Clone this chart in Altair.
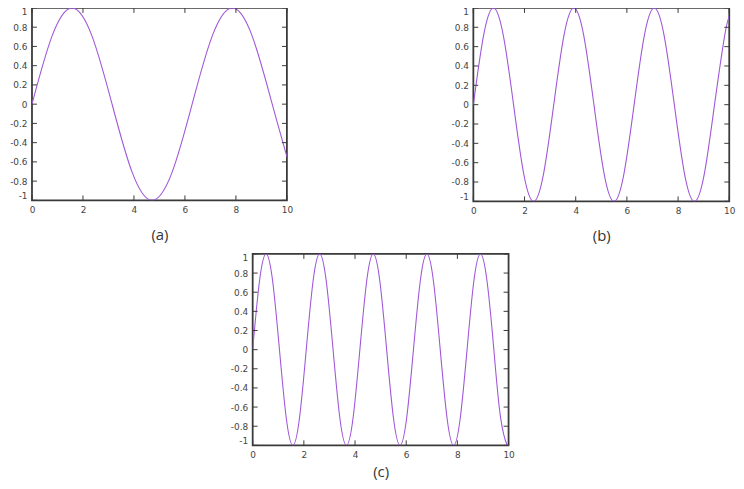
import altair as alt
import pandas as pd

# ---- data (x positions and curve values) ----
xa = [0, 0.785, 1.571, 2.356, 3.142, 3.927, 4.712, 5.498, 6.283, 7.069, 7.854,
      8.639, 9.425, 10]
ya = [0, 0.707, 1, 0.707, 0, -0.707, -1, -0.707, 0, 0.707, 1, 0.707, 0, -0.544]

xb = [0, 0.393, 0.785, 1.178, 1.571, 1.963, 2.356, 2.749, 3.142, 3.534, 3.927,
      4.320, 4.712, 5.105, 5.498, 5.890, 6.283, 6.676, 7.069, 7.461, 7.854,
      8.247, 8.639, 9.032, 9.425, 9.817, 10]
yb = [0, 0.707, 1, 0.707, 0, -0.707, -1, -0.707, 0, 0.707, 1, 0.707, 0,
      -0.707, -1, -0.707, 0, 0.707, 1, 0.707, 0, -0.707, -1, -0.707, 0,
      0.707, 0.913]

xc = [0, 0.262, 0.524, 0.785, 1.047, 1.309, 1.571, 1.833, 2.094, 2.356, 2.618,
      2.880, 3.142, 3.403, 3.665, 3.927, 4.189, 4.451, 4.712, 4.974, 5.236,
      5.498, 5.760, 6.021, 6.283, 6.545, 6.807, 7.069, 7.330, 7.592, 7.854,
      8.116, 8.378, 8.639, 8.901, 9.163, 9.425, 9.687, 9.948, 10]
yc = [0, 0.707, 1, 0.707, 0, -0.707, -1, -0.707, 0, 0.707, 1, 0.707, 0,
      -0.707, -1, -0.707, 0, 0.707, 1, 0.707, 0, -0.707, -1, -0.707, 0,
      0.707, 1, 0.707, 0, -0.707, -1, -0.707, 0, 0.707, 1, 0.707, 0,
      -0.707, -1, -0.988]

x_ticks = [0, 2, 4, 6, 8, 10]
y_ticks = [-1, -0.8, -0.6, -0.4, -0.2, 0, 0.2, 0.4, 0.6, 0.8, 1]
labels = ["(a)", "(b)", "(c)"]

LINE = "#a058d8"
FRAME = "#3a3a3a"
TICK_LEN = 5


def panel(xs, ys, title, w, h, title_pad):
    df = pd.DataFrame({"x": xs, "y": ys})
    xt = pd.DataFrame({"x": x_ticks})
    yt = pd.DataFrame({"y": y_ticks})
    xscale = alt.Scale(domain=[0, 10], nice=False, zero=False)
    yscale = alt.Scale(domain=[-1, 1], nice=False, zero=False)
    x_axis = alt.Axis(values=x_ticks, title=title, grid=False,
                      domain=False, ticks=False, labelPadding=5,
                      labelExpr="toString(datum.value)",
                      labelFont="DejaVu Sans", labelFontSize=9,
                      labelColor="#444444", labelFlush=False,
                      labelOverlap=False,
                      titleFont="Open Sans", titleFontSize=15,
                      titleFontWeight="normal", titleColor="#333333",
                      titlePadding=title_pad)
    y_axis = alt.Axis(values=y_ticks, title=None, grid=False,
                      domain=False, ticks=False, labelPadding=5,
                      labelExpr="toString(datum.value)",
                      labelFont="DejaVu Sans", labelFontSize=9,
                      labelColor="#444444", labelFlush=True,
                      labelOverlap=False)
    X = alt.X("x:Q", scale=xscale, axis=x_axis)
    Y = alt.Y("y:Q", scale=yscale, axis=y_axis)

    line = alt.Chart(df).mark_line(color=LINE, strokeWidth=1.1,
                                   interpolate="natural", clip=True).encode(x=X, y=Y)

    tick_style = dict(color=FRAME, strokeWidth=1)
    bottom = alt.Chart(xt).mark_rule(**tick_style).encode(
        x=X, y=alt.value(h), y2=alt.value(h - TICK_LEN))
    top = alt.Chart(xt).mark_rule(**tick_style).encode(
        x=X, y=alt.value(0), y2=alt.value(TICK_LEN))
    left = alt.Chart(yt).mark_rule(**tick_style).encode(
        y=Y, x=alt.value(0), x2=alt.value(TICK_LEN))
    right = alt.Chart(yt).mark_rule(**tick_style).encode(
        y=Y, x=alt.value(w - TICK_LEN), x2=alt.value(w))

    return alt.layer(line, bottom, top, left, right).properties(width=w, height=h)


pa = panel(xa, ya, labels[0], 257, 194, 13)
pb = panel(xb, yb, labels[1], 258, 195, 13)
pc = panel(xc, yc, labels[2], 258, 193, 5)

row1 = alt.hconcat(pa, pb, spacing=157)
chart = alt.vconcat(row1, pc, spacing=8, center=True).properties(
    padding={"left": 0, "top": -4, "right": 0, "bottom": 0},
    background="white",
).configure_view(stroke=FRAME, strokeWidth=1.8)

chart.save("out.html", embed_options={"renderer": "svg", "actions": False})
